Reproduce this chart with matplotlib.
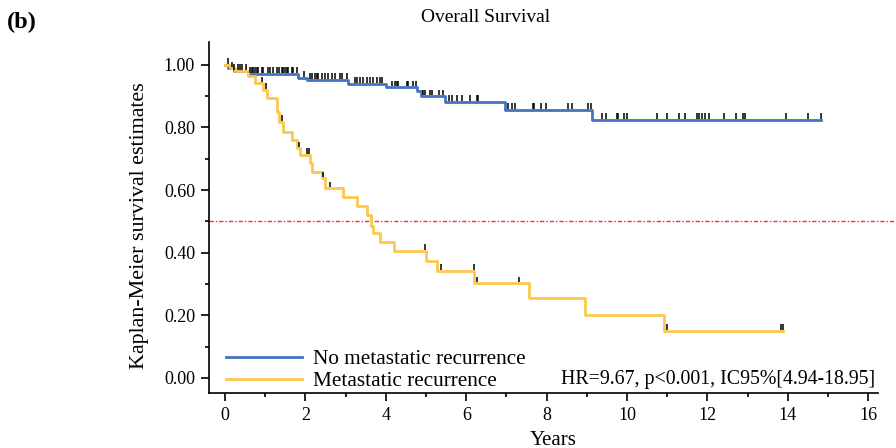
import numpy as np
import matplotlib
matplotlib.use("Agg")
import matplotlib.pyplot as plt
from matplotlib.ticker import MultipleLocator, FormatStrFormatter

plt.rcParams['font.family'] = ['Liberation Serif', 'DejaVu Serif']

# Kaplan-Meier steps (years, survival)
no_met_times = [0, 0.08, 0.21, 0.58, 1.82, 2.05, 3.07, 4.0, 4.78, 4.88, 5.47, 6.97, 9.13, 14.83]
no_met_surv = [1.0, 0.989, 0.981, 0.971, 0.958, 0.952, 0.940, 0.929, 0.915, 0.900, 0.882, 0.856, 0.824, 0.824]
no_met_censor = [0.07, 0.21, 0.32, 0.37, 0.42, 0.51, 0.62, 0.66, 0.70, 0.75, 0.79, 0.83, 0.91, 0.95,
                 1.08, 1.12, 1.20, 1.29, 1.33, 1.41, 1.45, 1.49, 1.53, 1.57, 1.66, 1.70, 1.78,
                 1.97, 2.11, 2.16, 2.24, 2.28, 2.32, 2.41, 2.49, 2.57, 2.66, 2.74, 2.86, 2.90, 3.04,
                 3.23, 3.28, 3.36, 3.44, 3.52, 3.61, 3.69, 3.77, 3.86, 3.90,
                 4.15, 4.23, 4.27, 4.31, 4.52, 4.56, 4.68, 4.76,
                 4.93, 4.98, 5.10, 5.14, 5.31, 5.43,
                 5.56, 5.64, 5.76, 5.89, 6.09, 6.26, 6.30,
                 7.04, 7.14, 7.21, 7.67, 7.69, 7.85, 7.99, 8.52, 8.62, 9.02, 9.11,
                 9.37, 9.47, 9.74, 9.78, 9.93, 9.99, 10.74, 10.99, 11.30, 11.44, 11.73, 11.79,
                 11.86, 11.94, 12.05, 12.40, 12.71, 12.89, 12.94, 13.96, 14.51, 14.82]

met_times = [0, 0.12, 0.25, 0.58, 0.75, 0.95, 1.04, 1.29, 1.34, 1.45, 1.66, 1.78, 1.87, 2.11, 2.16,
             2.41, 2.48, 2.94, 3.28, 3.54, 3.62, 3.69, 3.86, 4.21, 4.99, 5.27, 6.20, 7.56, 8.96,
             10.92, 13.89]
met_surv = [1.0, 0.989, 0.979, 0.963, 0.941, 0.920, 0.894, 0.851, 0.819, 0.787, 0.760, 0.734, 0.712,
            0.686, 0.659, 0.638, 0.606, 0.579, 0.550, 0.521, 0.486, 0.462, 0.433, 0.406, 0.374,
            0.342, 0.303, 0.255, 0.201, 0.150, 0.150]
met_censor = [0.18, 0.91, 1.02, 1.42, 1.84, 2.04, 2.09, 2.43, 2.61, 4.98, 5.37, 6.19, 6.26, 7.30,
              10.99, 13.83, 13.88]

labels = ['No metastatic recurrence', 'Metastatic recurrence']
colors = ['#4472C4', '#FBC84E']
stats_text = 'HR=9.67, p<0.001, IC95%[4.94-18.95]'


def level_at(times, surv, t):
    idx = np.searchsorted(times, t, side='right') - 1
    return np.array(surv)[idx]


fig = plt.figure(figsize=(8.96, 4.48), dpi=100)
ax = fig.add_axes([209 / 896, 1 - 393 / 448, 687 / 896, 351 / 448])

ax.axhline(0.5, color='#FF2A2A', lw=1.0, ls=(0, (3, 1.5, 1, 1.5)), zorder=1)

ax.step(no_met_times, no_met_surv, where='post', color=colors[0], lw=2.0, label=labels[0], zorder=2)
ax.step(met_times, met_surv, where='post', color=colors[1], lw=2.0, label=labels[1], zorder=2)

for times, surv, cens in [(no_met_times, no_met_surv, no_met_censor),
                          (met_times, met_surv, met_censor)]:
    lv = level_at(times, surv, cens)
    ax.vlines(cens, lv + 0.003, lv + 0.021, color='black', lw=1.1, zorder=3)

ax.set_xlim(-0.40, 16.69)
ax.set_ylim(-0.048, 1.073)
ax.spines['top'].set_visible(False)
ax.spines['right'].set_visible(False)
ax.spines['bottom'].set_bounds(-0.40, 16.24)
for s in ['left', 'bottom']:
    ax.spines[s].set_linewidth(1.2)

ax.xaxis.set_major_locator(MultipleLocator(2))
ax.xaxis.set_minor_locator(MultipleLocator(1))
ax.yaxis.set_major_locator(MultipleLocator(0.2))
ax.yaxis.set_minor_locator(MultipleLocator(0.1))
ax.yaxis.set_major_formatter(FormatStrFormatter('%.2f'))
ax.set_xticks([t for t in range(0, 17, 2)])
ax.tick_params(which='major', length=6, width=1.2, labelsize=13, pad=4)
ax.tick_params(which='minor', length=3, width=1.2)

leg = ax.legend(loc='lower left', bbox_to_anchor=(0.0247, 0.005), frameon=False, fontsize=15.3,
                handlelength=3.6, handletextpad=0.5, labelspacing=0.1, borderpad=0, borderaxespad=0)

ax.text(0.9694, 0.026, stats_text, transform=ax.transAxes, ha='right', va='baseline', fontsize=14.3)

fig.text(486 / 896, 1 - 18 / 448, 'Overall Survival', ha='center', va='center', fontsize=14)
fig.text(7 / 896, 1 - 22 / 448, '(b)', ha='left', va='center', fontsize=17.5, fontweight='bold')
fig.text(139 / 896, 1 - 226 / 448, 'Kaplan-Meier survival estimates', rotation=90,
         ha='center', va='center', fontsize=15.8)
fig.text(553 / 896, 1 - 440 / 448, 'Years', ha='center', va='center', fontsize=15)

fig.savefig('out.png', dpi=100)
